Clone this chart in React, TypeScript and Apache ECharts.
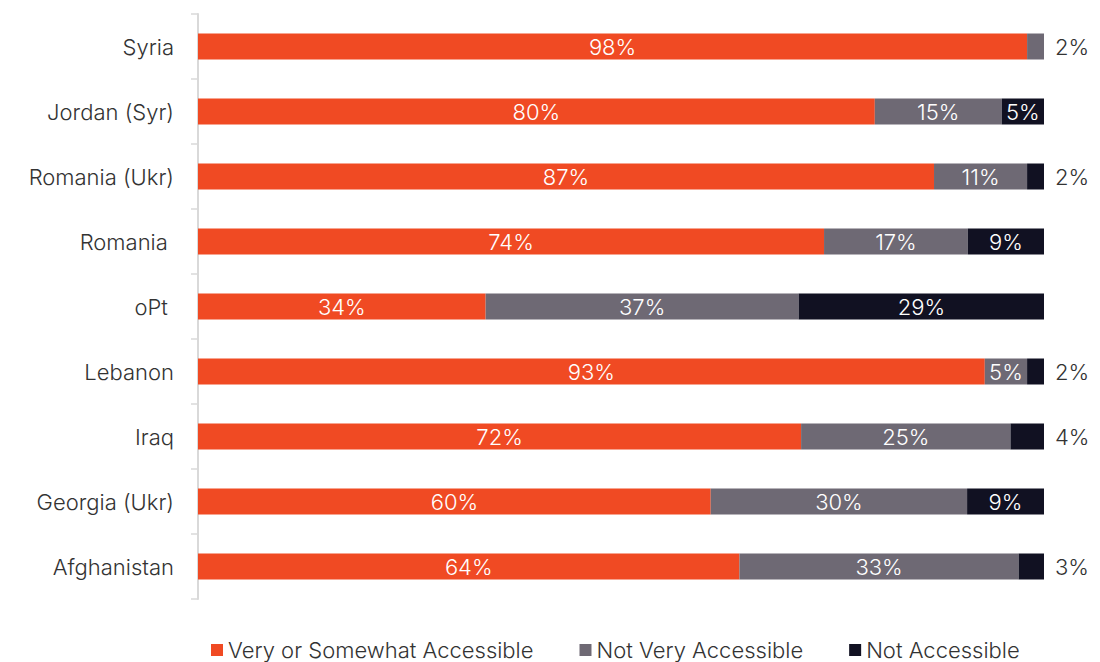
import React, { useEffect, useRef } from "react";
import * as echarts from "echarts";

const categories = [
  "Syria",
  "Jordan (Syr)",
  "Romania (Ukr)",
  "Romania ",
  "oPt ",
  "Lebanon",
  "Iraq",
  "Georgia (Ukr)",
  "Afghanistan",
];
const veryOrSomewhat = [98, 80, 87, 74, 34, 93, 72, 60, 64];
const notVery = [2, 15, 11, 17, 37, 5, 25, 30, 33];
const notAccessible = [0, 5, 2, 9, 29, 2, 4, 9, 3];

const seriesNames = ["Very or Somewhat Accessible", "Not Very Accessible", "Not Accessible"];
const colors = ["#F04A23", "#6E6974", "#111122"];
const FONT = "Inter, 'Noto Sans', sans-serif";
const WEIGHT = 300;

export default function App() {
  const ref = useRef<HTMLDivElement>(null);
  useEffect(() => {
    if (!ref.current) return;
    const chart = echarts.init(ref.current, null, { renderer: "svg" });
    const rows = [veryOrSomewhat, notVery, notAccessible];
    const totals = categories.map((_, i) => rows.reduce((s, r) => s + r[i], 0));
    const series = rows.map((arr, si) => ({
      name: seriesNames[si],
      type: "bar",
      stack: "total",
      barWidth: 26,
      itemStyle: { color: colors[si] },
      data: arr.map((v, i) => {
        const item: any = { value: (v / totals[i]) * 100, raw: v };
        if (v === 0) {
          item.label = { show: false };
        } else if (v < 5) {
          item.label = {
            show: true,
            position: "right",
            distance: 11,
            color: "#333333",
          };
        }
        return item;
      }),
      label: {
        show: true,
        position: "inside",
        color: "#ffffff",
        fontFamily: FONT,
        fontWeight: WEIGHT,
        fontSize: 22,
        formatter: (p: any) => `${p.data.raw}%`,
      },
    }));
    chart.setOption({
      animation: false,
      color: colors,
      grid: { left: 198, right: 56, top: 14, bottom: 63, containLabel: false },
      legend: {
        data: seriesNames,
        top: 639,
        left: 211,
        padding: 0,
        itemWidth: 12,
        itemHeight: 12,
        itemGap: 46,
        icon: "rect",
        textStyle: { fontFamily: FONT, fontWeight: WEIGHT, fontSize: 22, color: "#333333" },
      },
      xAxis: {
        type: "value",
        min: 0,
        max: 100,
        show: false,
      },
      yAxis: {
        type: "category",
        data: categories,
        inverse: true,
        axisLine: { show: true, lineStyle: { color: "#D9D9D9", width: 2 } },
        axisTick: { show: true, length: 7, lineStyle: { color: "#D9D9D9", width: 1.5 } },
        axisLabel: { fontFamily: FONT, fontWeight: WEIGHT, fontSize: 22, color: "#333333", margin: 24 },
      },
      series,
    });
    return () => chart.dispose();
  }, []);
  return <div ref={ref} style={{ width: 1100, height: 662, position: "absolute", left: 0, top: 0 }} />;
}
